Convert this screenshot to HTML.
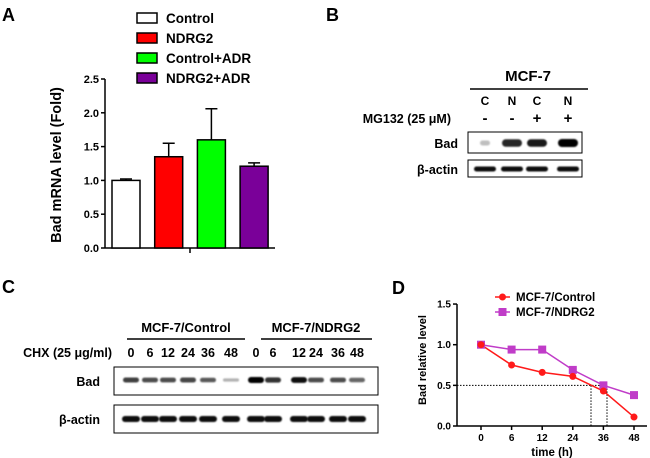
<!DOCTYPE html>
<html><head><meta charset="utf-8"><style>
body{margin:0;background:#fff}
svg{display:block;font-family:"Liberation Sans",Arial,sans-serif}
.b{font-weight:bold}
</style></head><body>
<svg id="fig" width="650" height="458" viewBox="0 0 650 458">
<defs><filter id="bl" x="-20%" y="-50%" width="140%" height="200%"><feGaussianBlur stdDeviation="0.7"/></filter></defs>
<text x="2" y="21" font-size="18" class="b">A</text>
<text x="326" y="21" font-size="18" class="b">B</text>
<text x="2" y="293" font-size="18" class="b">C</text>
<text x="392" y="294" font-size="18" class="b">D</text>
<g id="chartA"></g>
<g id="panelB"></g>
<g id="panelC"></g>
<g id="chartD"></g>
</svg>
<script>
// ---- Panel A data ----
const aCategories = ["Control","NDRG2","Control+ADR","NDRG2+ADR"];
const aValues = [1.0, 1.35, 1.6, 1.21];
const aErrors = [0.02, 0.2, 0.46, 0.05];
const aColors = ["#ffffff","#ff0000","#00ff00","#7a0099"];
const aTicks = ["0.0","0.5","1.0","1.5","2.0","2.5"];
// ---- Panel D data ----
const dCategories = ["0","6","12","24","36","48"];
const dControl = [1.0, 0.75, 0.66, 0.61, 0.43, 0.11];
const dNDRG2 = [1.0, 0.94, 0.94, 0.69, 0.50, 0.38];
const dTicks = ["0.0","0.5","1.0","1.5"];
// ---- Blot data ----
const bBad = [0.25, 0.85, 0.9, 1.0];
const cLanes = ["0","6","12","24","36","48","0","6","12","24","36","48"];
const cBad = [0.75,0.7,0.7,0.72,0.65,0.3,1.0,0.8,0.95,0.7,0.7,0.6];

const NS="http://www.w3.org/2000/svg";
function mk(parent,tag,attrs,text){const e=document.createElementNS(NS,tag);for(const k in attrs)e.setAttribute(k,attrs[k]);if(text!==undefined)e.textContent=text;parent.appendChild(e);return e;}

// Panel A
(function(){
  const g=document.getElementById('chartA');
  const y=v=>248-v*67.6;
  const x0=105;
  const bx=i=>112+i*42.7;
  mk(g,'line',{x1:x0,y1:y(2.5),x2:x0,y2:248.5,stroke:'#000','stroke-width':1.5});
  mk(g,'line',{x1:x0,y1:248,x2:275,y2:248,stroke:'#000','stroke-width':1.5});
  mk(g,'line',{x1:190,y1:248,x2:190,y2:253,stroke:'#000','stroke-width':1.5});
  aTicks.forEach((t,i)=>{
    const v=parseFloat(t);
    mk(g,'line',{x1:x0-4,y1:y(v),x2:x0,y2:y(v),stroke:'#000','stroke-width':1.5});
    const tx=mk(g,'text',{x:x0-6,y:y(v)+4,'font-size':11,'text-anchor':'end',class:'b'},t);
    
    
  });
  const tt=mk(g,'text',{transform:'translate(61,165) rotate(-90)','font-size':14.5,'text-anchor':'middle',class:'b'},'Bad mRNA level (Fold)');
  
  
  aValues.forEach((v,i)=>{
    const cx=bx(i)+14;
    const eb=mk(g,'path',{d:`M${cx},${y(v)} V${y(v+aErrors[i])} M${cx-6},${y(v+aErrors[i])} H${cx+6}`,stroke:'#000','stroke-width':1.5,fill:'none'});
    
    
    const r=mk(g,'rect',{x:bx(i),y:y(v),width:28,height:248-y(v),fill:aColors[i],stroke:'#000','stroke-width':1.5});
    
    
    const lr=mk(g,'rect',{x:137,y:13+i*20,width:20,height:10,fill:aColors[i],stroke:'#000','stroke-width':1.5});
    
    
    const lt=mk(g,'text',{x:166,y:23+i*20,'font-size':13.5,class:'b'},aCategories[i]);
    
    
  });
})();

function band(g,cx,cy,w,h,dark){
  const e=mk(g,'rect',{x:cx-w/2,y:cy-h/2,width:w,height:h,rx:h/2,ry:h/2,fill:'#000','fill-opacity':Math.max(0.1,dark),filter:'url(#bl)'});
  
  
}

// Panel B
(function(){
  const g=document.getElementById('panelB');
  mk(g,'text',{x:528,y:81,'font-size':15,'text-anchor':'middle',class:'b'},'MCF-7');
  mk(g,'line',{x1:470,y1:89,x2:588,y2:89,stroke:'#000','stroke-width':1.5});
  const lx=[485,512,537,568];
  ['C','N','C','N'].forEach((t,i)=>mk(g,'text',{x:lx[i],y:105,'font-size':12,'text-anchor':'middle',class:'b'},t));
  ['-','-','+','+'].forEach((t,i)=>mk(g,'text',{x:lx[i],y:123,'font-size':15,'text-anchor':'middle',class:'b'},t));
  mk(g,'text',{x:451,y:123,'font-size':12.5,'text-anchor':'end',class:'b'},'MG132 (25 μM)');
  mk(g,'text',{x:458,y:148,'font-size':12.5,'text-anchor':'end',class:'b'},'Bad');
  mk(g,'text',{x:458,y:174,'font-size':12.5,'text-anchor':'end',class:'b'},'β-actin');
  mk(g,'rect',{x:468,y:132,width:114,height:21,fill:'none',stroke:'#000','stroke-width':1});
  mk(g,'rect',{x:468,y:160,width:114,height:17,fill:'none',stroke:'#000','stroke-width':1});
  bBad.forEach((d,i)=>{band(g,lx[i],143,d<0.5?10:20,4+d*4,d);band(g,lx[i],169,22,5,0.95);});
})();

// Panel C
(function(){
  const g=document.getElementById('panelC');
  mk(g,'text',{x:186,y:332,'font-size':13,'text-anchor':'middle',class:'b'},'MCF-7/Control');
  mk(g,'line',{x1:127,y1:339,x2:245,y2:339,stroke:'#000','stroke-width':1.5});
  mk(g,'text',{x:316,y:332,'font-size':13,'text-anchor':'middle',class:'b'},'MCF-7/NDRG2');
  mk(g,'line',{x1:261,y1:339,x2:372,y2:339,stroke:'#000','stroke-width':1.5});
  mk(g,'text',{x:112,y:357,'font-size':12.5,'text-anchor':'end',class:'b'},'CHX (25 μg/ml)');
  const lx=[131,150,168,188,208,231,256,273,299,316,338,357];
  cLanes.forEach((t,i)=>mk(g,'text',{x:lx[i],y:357,'font-size':12.5,'text-anchor':'middle',class:'b'},t));
  mk(g,'text',{x:100,y:386,'font-size':12.5,'text-anchor':'end',class:'b'},'Bad');
  mk(g,'text',{x:100,y:424,'font-size':12.5,'text-anchor':'end',class:'b'},'β-actin');
  mk(g,'rect',{x:114,y:367,width:264,height:28,fill:'none',stroke:'#000','stroke-width':1});
  mk(g,'rect',{x:114,y:405,width:264,height:28,fill:'none',stroke:'#000','stroke-width':1});
  cBad.forEach((d,i)=>{band(g,lx[i],380,16,2+d*4,d);band(g,lx[i],419,18,6,0.95);});
})();

// Panel D
(function(){
  const g=document.getElementById('chartD');
  const y=v=>426-v*81.3;
  const x=i=>481+i*30.6;
  const x0=457;
  mk(g,'line',{x1:x0,y1:y(1.5),x2:x0,y2:426.5,stroke:'#000','stroke-width':1.5});
  mk(g,'line',{x1:x0,y1:426,x2:647,y2:426,stroke:'#000','stroke-width':1.5});
  dTicks.forEach(t=>{const v=parseFloat(t);
    mk(g,'line',{x1:x0-4,y1:y(v),x2:x0,y2:y(v),stroke:'#000','stroke-width':1.5});
    const tx=mk(g,'text',{x:x0-6,y:y(v)+3.5,'font-size':10,'text-anchor':'end',class:'b'},t);
    
    
  });
  dCategories.forEach((c,i)=>{
    mk(g,'line',{x1:x(i),y1:426,x2:x(i),y2:430,stroke:'#000','stroke-width':1.5});
    const tx=mk(g,'text',{x:x(i),y:441,'font-size':10,'text-anchor':'middle',class:'b'},c);
    
    
  });
  const xt=mk(g,'text',{x:552,y:456,'font-size':11.5,'text-anchor':'middle',class:'b'},'time (h)');
  
  
  const yt=mk(g,'text',{transform:'translate(426,360) rotate(-90)','font-size':11,'text-anchor':'middle',class:'b'},'Bad relative level');
  
  
  mk(g,'path',{d:`M${x0},${y(0.5)} H607 M591,${y(0.5)} V426 M607,${y(0.5)} V426`,stroke:'#000','stroke-width':1,'stroke-dasharray':'1.5,1.5',fill:'none'});
  const pts=a=>a.map((v,i)=>x(i)+','+y(v)).join(' ');
  const l2=mk(g,'polyline',{points:pts(dNDRG2),fill:'none',stroke:'#c03cc8','stroke-width':1.5});
  
  
  const l1=mk(g,'polyline',{points:pts(dControl),fill:'none',stroke:'#ff1a1a','stroke-width':1.5});
  
  
  dNDRG2.forEach((v,i)=>{const m=mk(g,'rect',{x:x(i)-4,y:y(v)-4,width:8,height:8,fill:'#c03cc8'});
    
    });
  dControl.forEach((v,i)=>{const m=mk(g,'circle',{cx:x(i),cy:y(v),r:3.5,fill:'#ff1a1a'});
    
    });
  mk(g,'line',{x1:495,y1:297,x2:510,y2:297,stroke:'#ff1a1a','stroke-width':1.5});
  mk(g,'circle',{cx:502.5,cy:297,r:3.5,fill:'#ff1a1a'});
  const le1=mk(g,'text',{x:516,y:301,'font-size':11.5,class:'b'},'MCF-7/Control');
  
  
  mk(g,'line',{x1:495,y1:312,x2:510,y2:312,stroke:'#c03cc8','stroke-width':1.5});
  mk(g,'rect',{x:498.5,y:308,width:8,height:8,fill:'#c03cc8'});
  const le2=mk(g,'text',{x:516,y:316,'font-size':11.5,class:'b'},'MCF-7/NDRG2');
  
  
})();
</script>
</body></html>
